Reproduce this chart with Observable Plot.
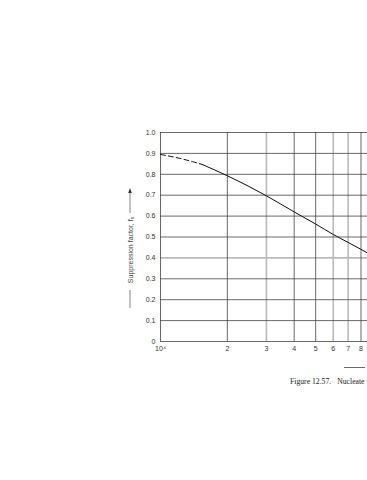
<!DOCTYPE html>
<html>
<head>
<meta charset="utf-8">
<script src="https://cdn.jsdelivr.net/npm/d3@7"></script>
<script src="https://cdn.jsdelivr.net/npm/@observablehq/plot@0.6"></script>
<style>
  html, body { margin: 0; padding: 0; background: #fff; overflow: hidden; }
  #wrap { position: relative; width: 367px; height: 480px; overflow: hidden; background: #fff; }
  #chart { position: absolute; left: 0; top: 0; width: 420px; height: 480px; }
  #chart svg { max-width: none !important; width: 420px; height: 480px; display: block; }
  #caption { position: absolute; left: 290px; top: 377px; font-family: "Liberation Serif", "DejaVu Serif", serif; font-size: 7.7px; color: #222; white-space: nowrap; }
  #caption span { margin-left: 6px; }
</style>
</head>
<body>
<div id="wrap"><div id="chart"></div><div id="caption">Figure 12.57.<span>Nucleate</span></div></div>
<script>
// Two-phase Reynolds number (x) and suppression factor (y)
const dashedRe = [10000, 12000, 14000, 15500];
const dashedS  = [0.895, 0.878, 0.860, 0.846];
const solidRe  = [15500, 20000, 25000, 30000, 40000, 50000, 60000, 70000, 80000, 90000, 100000];
const solidS   = [0.846, 0.793, 0.742, 0.697, 0.620, 0.562, 0.512, 0.474, 0.441, 0.410, 0.382];

const xTicks = [10000, 20000, 30000, 40000, 50000, 60000, 70000, 80000];
const xGridDark = [10000, 20000, 40000, 50000, 80000, 90000, 100000];
const xGridGray = [30000, 60000, 70000];
const yTicks = [0, 0.1, 0.2, 0.3, 0.4, 0.5, 0.6, 0.7, 0.8, 0.9, 1.0];
const yGridDark = [0, 0.1, 0.2, 0.3, 0.5, 0.6, 0.7, 0.8, 0.9, 1.0];
const yGridGray = [0.4];

const dashed = dashedRe.map((x, i) => ({x, y: dashedS[i]}));
const solid = solidRe.map((x, i) => ({x, y: solidS[i]}));

const chart = Plot.plot({
  width: 420,
  height: 480,
  marginLeft: 160,
  marginRight: 38,
  marginTop: 132,
  marginBottom: 139,
  style: { fontFamily: "'Liberation Sans', Arial, sans-serif", fontSize: "7px", background: "#fff", color: "#333" },
  x: { type: "log", domain: [10000, 100000] },
  y: { domain: [0, 1] },
  marks: [
    Plot.ruleX(xGridGray, { stroke: "#bbb", strokeWidth: 1.6 }),
    Plot.ruleY(yGridGray, { stroke: "#bbb", strokeWidth: 1.6 }),
    Plot.ruleX(xGridDark, { stroke: "#444", strokeWidth: 0.8 }),
    Plot.ruleY(yGridDark, { stroke: "#444", strokeWidth: 0.8 }),
    Plot.axisY({ ticks: yTicks, tickSize: 0, tickPadding: 5, label: null,
      tickFormat: d => d === 0 ? "0" : d.toFixed(1) }),
    Plot.axisX({ ticks: xTicks, tickSize: 0, tickPadding: 5, label: null,
      tickFormat: d => d === 10000 ? "10\u2074" : String(d / 10000) }),
    Plot.line(dashed, { x: "x", y: "y", stroke: "#111", strokeWidth: 1, strokeDasharray: "5,3", curve: "monotone-x" }),
    Plot.line(solid, { x: "x", y: "y", stroke: "#111", strokeWidth: 1, curve: "monotone-x" })
  ]
});
document.getElementById("chart").appendChild(chart);

// y-axis label with leading line and trailing arrow
const svg = d3.select(chart);
const g = svg.append("g").attr("transform", "translate(130,250) rotate(-90)");
g.append("line").attr("x1", -58).attr("x2", -40).attr("y1", 0).attr("y2", 0).attr("stroke", "#555").attr("stroke-width", 0.7);
g.append("line").attr("x1", 37).attr("x2", 58).attr("y1", 0).attr("y2", 0).attr("stroke", "#555").attr("stroke-width", 0.7);
g.append("path").attr("d", "M62,0 L57,-1.8 L57,1.8 Z").attr("fill", "#333");
const t = g.append("text").attr("text-anchor", "middle").attr("dominant-baseline", "central")
  .attr("font-size", 7).attr("fill", "#444").attr("font-family", "'Liberation Sans', Arial, sans-serif");
t.append("tspan").text("Suppression factor, f");
t.append("tspan").attr("font-size", 5).attr("dy", 1.5).text("s");

// cut-off x-axis label line
svg.append("line").attr("x1", 344).attr("x2", 365).attr("y1", 367.5).attr("y2", 367.5).attr("stroke", "#444").attr("stroke-width", 0.8);
</script>
</body>
</html>
